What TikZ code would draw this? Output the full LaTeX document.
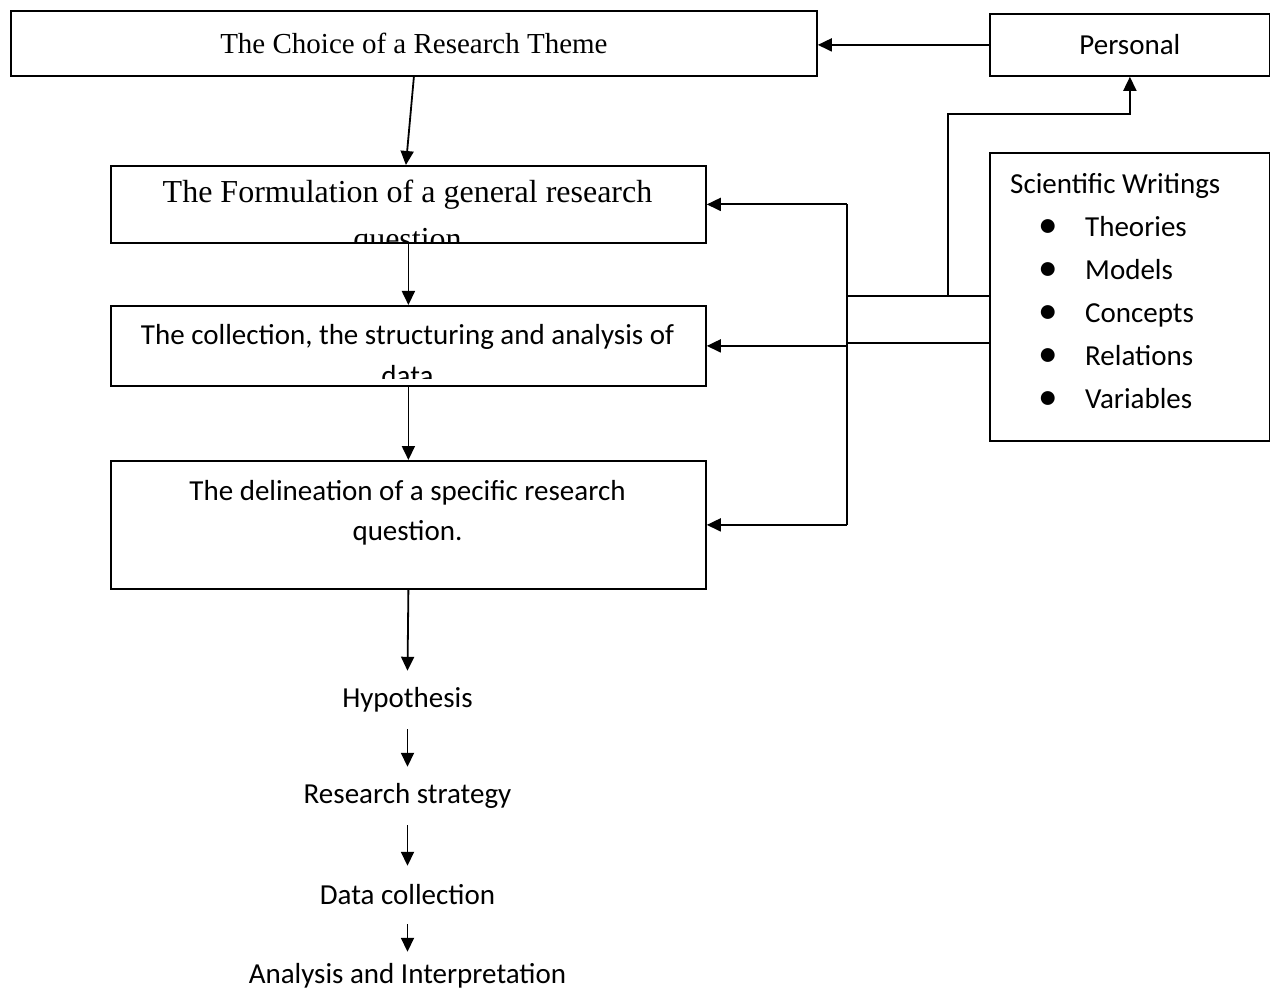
\documentclass[tikz,border=0pt]{standalone}
\usepackage{fontspec}
\setmainfont{Liberation Serif}
\newfontfamily\calfont{Carlito}
\usetikzlibrary{arrows.meta}
\newcommand{\bigbul}{\hspace*{28pt}\makebox[47pt][l]{\raisebox{-1pt}{\scalebox{1.35}{\textbullet}}}}
\begin{document}
\begin{tikzpicture}[x=1pt,y=-1pt,
  box/.style={draw,line width=1.8pt,rectangle,inner sep=0pt,anchor=north west},
  conn/.style={line width=1.8pt,-{Triangle[length=14pt,width=13pt]}},
  plain/.style={line width=1.8pt},
  serA/.style={font=\fontsize{29}{36}\selectfont},
  serB/.style={font=\fontsize{32}{47}\selectfont},
  cal/.style={font=\calfont\fontsize{29}{40}\selectfont},
  lbl/.style={cal,inner sep=0pt,minimum height=58pt}]
\useasboundingbox (0,0) rectangle (1270,992);

% boxes
\node[box,serA,minimum width=806pt,minimum height=65pt] (theme) at (10,10) {The Choice of a Research Theme};
\node[box,cal,minimum width=280pt,minimum height=62pt] (pers) at (989,13) {Personal};
\node[box,minimum width=595pt,minimum height=77pt] (form) at (110,165) {};
\node[box,minimum width=595pt,minimum height=80pt] (coll) at (110,305) {};
\node[box,minimum width=595pt,minimum height=128pt] (deli) at (110,460) {};
\node[box,minimum width=280pt,minimum height=288pt] (sw) at (989,152) {};

% clipped texts
\begin{scope}
\clip ([xshift=3pt,yshift=-3pt]form.north west) rectangle ([xshift=-3pt,yshift=2pt]form.south east);
\node[serB,align=center,inner sep=0pt] (formt) at (407.5,218.5) {The Formulation of a general research\\question};
\end{scope}
\begin{scope}
\clip ([xshift=3pt,yshift=-3pt]coll.north west) rectangle ([xshift=-3pt,yshift=8pt]coll.south east);
\node[cal,align=center,inner sep=0pt,font=\calfont\fontsize{29}{41}\selectfont] (collt) at (407.5,355.5) {The collection, the structuring and analysis of\\data};
\end{scope}
\node[cal,align=center,inner sep=0pt] (delit) at (407.5,513) {The delineation of a specific research\\question.};

% scientific writings list
\node[font=\calfont\fontsize{29}{43}\selectfont,align=left,anchor=north west,inner sep=0pt] (swt) at (1010,173)
 {Scientific Writings\\
  \bigbul Theories\\
  \bigbul Models\\
  \bigbul Concepts\\
  \bigbul Relations\\
  \bigbul Variables};

% lower chain
\node[lbl] (hyp) at (407.5,700) {Hypothesis};
\node[lbl] (strat) at (407.5,796) {Research strategy};
\node[lbl] (dcol) at (407.5,895) {Data collection};
\node[cal,inner sep=0pt,minimum height=48pt] (anal) at (407.5,976) {Analysis and Interpretation};

% main chain arrows
\draw[conn] (theme.south) -- ([xshift=-2.5pt]form.north);
\draw[conn] (form.south) -- (coll.north);
\draw[conn] (coll.south) -- (deli.north);
\draw[conn] (deli.south) -- (hyp.north);
\draw[conn] (hyp.south) -- (strat.north);
\draw[conn] (strat.south) -- (dcol.north);
\draw[conn] (dcol.south) -- (anal.north);

% personal
\draw[conn] (pers.west) -- (pers.west -| theme.east);

% bus from scientific writings
\coordinate (bus) at (847,0);
\coordinate (pj) at (948,0);
\coordinate (bend) at (0,114);
\coordinate (upper) at (0,296);
\coordinate (lower) at (0,343);
\draw[plain] (form.east -| bus) -- (deli.east -| bus);
\draw[conn] (form.east -| bus) -- (form.east);
\draw[conn] (coll.east -| bus) -- (coll.east);
\draw[conn] (deli.east -| bus) -- (deli.east);
\draw[plain] (upper -| sw.west) -- (upper -| bus);
\draw[plain] (lower -| sw.west) -- (lower -| bus);
\draw[conn] (upper -| pj) -- (bend -| pj) -- (bend -| pers.south) -- (pers.south);
\end{tikzpicture}
\end{document}
